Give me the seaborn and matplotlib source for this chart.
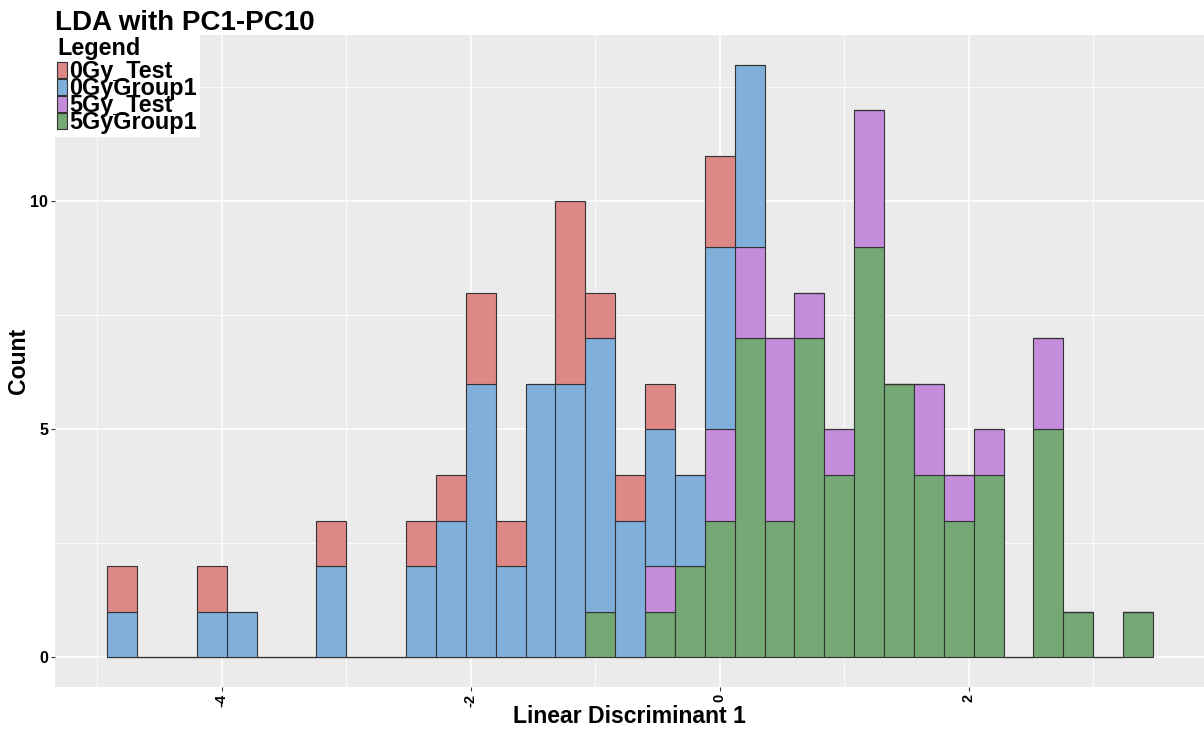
import numpy as np
import pandas as pd
import matplotlib
matplotlib.use('Agg')
import matplotlib.pyplot as plt
import seaborn as sns
from matplotlib.patches import Patch
from matplotlib.ticker import MultipleLocator

groups = ['0Gy_Test', '0GyGroup1', '5Gy_Test', '5GyGroup1']
colors = ['#DD8787', '#80AFDC', '#C58CDB', '#74A874']

bin_start = -4.92
bin_width = 0.24
n_bins = 35
#                 0  1  2  3  4  5  6  7  8  9 10 11 12 13 14 15 16 17 18 19 20 21 22 23 24 25 26 27 28 29 30 31 32 33 34
c_0gy_test   = [1, 0, 0, 1, 0, 0, 0, 1, 0, 0, 1, 1, 2, 1, 0, 4, 1, 1, 1, 0, 2, 0, 0, 0, 0, 0, 0, 0, 0, 0, 0, 0, 0, 0, 0]
c_0gy_group1 = [1, 0, 0, 1, 1, 0, 0, 2, 0, 0, 2, 3, 6, 2, 6, 6, 6, 3, 3, 2, 4, 4, 0, 0, 0, 0, 0, 0, 0, 0, 0, 0, 0, 0, 0]
c_5gy_test   = [0, 0, 0, 0, 0, 0, 0, 0, 0, 0, 0, 0, 0, 0, 0, 0, 0, 0, 1, 0, 2, 2, 4, 1, 1, 3, 0, 2, 1, 1, 0, 2, 0, 0, 0]
c_5gy_group1 = [0, 0, 0, 0, 0, 0, 0, 0, 0, 0, 0, 0, 0, 0, 0, 0, 1, 0, 1, 2, 3, 7, 3, 7, 4, 9, 6, 4, 3, 4, 0, 5, 1, 0, 1]

edges = bin_start + bin_width * np.arange(n_bins + 1)
centers = (edges[:-1] + edges[1:]) / 2
rows = []
for g, counts in zip(groups, [c_0gy_test, c_0gy_group1, c_5gy_test, c_5gy_group1]):
    for x, c in zip(centers, counts):
        rows.append([g, x, c])
df = pd.DataFrame(rows, columns=['group', 'LD1', 'count'])

plt.rcParams['font.family'] = ['Liberation Sans', 'DejaVu Sans']
fig = plt.figure(figsize=(12.04, 7.31), dpi=100)
ax = fig.add_axes([55/1204, 1-687/731, 1-55/1204, (687-35)/731])
ax.set_facecolor('#EBEBEB')

sns.histplot(data=df, x='LD1', weights='count', hue='group', hue_order=groups,
             palette=colors, multiple='stack', bins=edges.tolist(), alpha=1,
             edgecolor='#333333', linewidth=0.8, legend=False, ax=ax, zorder=3)

ax.set_xlim(-5.34, 3.89)
ax.set_ylim(-0.65, 13.65)
ax.xaxis.set_major_locator(MultipleLocator(2))
ax.xaxis.set_minor_locator(MultipleLocator(1))
ax.yaxis.set_major_locator(MultipleLocator(5))
ax.yaxis.set_minor_locator(MultipleLocator(2.5))
ax.grid(which='major', color='white', linewidth=1.1, zorder=0)
ax.grid(which='minor', color='white', linewidth=0.55, zorder=0)
ax.set_axisbelow(True)
for s in ax.spines.values():
    s.set_visible(False)
ax.tick_params(which='major', length=3, color='#333333', labelsize=11.5, pad=2)
ax.tick_params(axis='x', labelsize=10.5)
ax.tick_params(which='minor', length=0)
ax.set_xticks([-4, -2, 0, 2])
ax.set_xticklabels(['-4', '-2', '0', '2'], rotation=90, fontweight='bold')
ax.set_yticks([0, 5, 10])
ax.set_yticklabels(['0', '5', '10'], fontweight='bold')
ax.set_xlabel('Linear Discriminant 1', fontsize=16.6, fontweight='bold')
ax.set_ylabel('Count', fontsize=16.6, fontweight='bold', labelpad=0)
ax.xaxis.set_label_coords(0.5, -0.0276)
fig.text(55/1204, 1-30/731, 'LDA with PC1-PC10', fontsize=20, fontweight='bold', va='baseline', ha='left')

handles = [Patch(facecolor=c, edgecolor='#333333', linewidth=0.8) for c in colors]
leg = ax.legend(handles, groups, title='Legend', loc='upper left', bbox_to_anchor=(0, 1),
                borderaxespad=0, frameon=True, fancybox=False, edgecolor='white', facecolor='white',
                framealpha=1, prop={'weight': 'bold', 'size': 16.8}, labelspacing=-0.26,
                handlelength=0.42, handleheight=0.68, handletextpad=0.1, borderpad=0.1)
leg.get_title().set_fontweight('bold')
leg.get_title().set_fontsize(16.8)
leg._legend_box.align = 'left'
leg._legend_box.sep = 0

fig.savefig('out.png', dpi=100)
